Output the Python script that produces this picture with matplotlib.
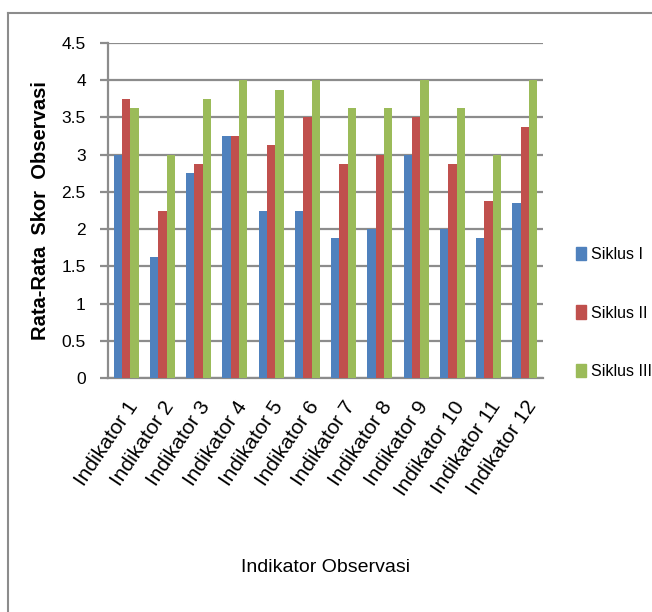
import numpy as np
import matplotlib.pyplot as plt
from matplotlib.lines import Line2D

categories = ["Indikator %d" % i for i in range(1, 13)]
siklus_1 = [3.0, 1.625, 2.75, 3.25, 2.25, 2.25, 1.875, 2.0, 3.0, 2.0, 1.875, 2.35]
siklus_2 = [3.75, 2.25, 2.875, 3.25, 3.125, 3.5, 2.875, 3.0, 3.5, 2.875, 2.375, 3.375]
siklus_3 = [3.625, 3.0, 3.75, 4.0, 3.875, 4.0, 3.625, 3.625, 4.0, 3.625, 3.0, 4.0]
series_names = ["Siklus I", "Siklus II", "Siklus III"]
colors = ["#4F81BD", "#C0504D", "#9BBB59"]

plt.rcParams["font.family"] = ["Liberation Sans", "DejaVu Sans"]

W, H = 652, 612
fig = plt.figure(figsize=(W / 100, H / 100), dpi=100)
ax = fig.add_axes([108 / W, 1 - 378 / H, (543 - 108) / W, (378 - 43) / H])

x = np.arange(len(categories))
bw = 0.23
for i, (vals, name, c) in enumerate(zip([siklus_1, siklus_2, siklus_3], series_names, colors)):
    ax.bar(x + (i - 1) * bw, vals, bw, color=c, label=name, zorder=3)

ax.set_xlim(-0.5, len(categories) - 0.5)
ax.set_ylim(0, 4.5)
ax.set_yticks(np.arange(0, 4.51, 0.5))
ax.set_yticklabels(["0", "0.5", "1", "1.5", "2", "2.5", "3", "3.5", "4", "4.5"])
ax.yaxis.grid(True, color="#8c8c8c", lw=1.6, zorder=0)
ax.set_axisbelow(True)
for s in ["top", "right"]:
    ax.spines[s].set_visible(False)
ax.spines["left"].set_color("#8c8c8c")
ax.spines["left"].set_linewidth(1.6)
ax.spines["bottom"].set_color("#8c8c8c")
ax.spines["bottom"].set_linewidth(1.6)
ax.tick_params(axis="y", length=6, width=1.6, color="#8c8c8c", labelsize=12.5, pad=10)
ax.tick_params(axis="x", length=0, pad=14)

ax.set_xticks(x)
ax.set_xticklabels(categories, rotation=56, ha="right", rotation_mode="anchor", fontsize=15)

ax.set_ylabel("Rata-Rata  Skor  Observasi", fontsize=14.5, fontweight="bold")
ax.yaxis.set_label_coords(-0.133, 0.5)
ax.set_xlabel("Indikator Observasi", fontsize=14)
ax.xaxis.set_label_coords(0.5, -0.54)

handles = [plt.Rectangle((0, 0), 1, 1, color=c) for c in colors]
fig.legend(handles, series_names, loc="center left", bbox_to_anchor=(562 / W, 1 - 313 / H),
           frameon=False, fontsize=11.5, handlelength=0.6, handleheight=0.9,
           handletextpad=0.3, labelspacing=2.7)

# outer chart frame (top and left edges)
fig.add_artist(Line2D([8 / W, 1], [1 - 13 / H, 1 - 13 / H], color="#8c8c8c", lw=1.5))
fig.add_artist(Line2D([8 / W, 8 / W], [0, 1 - 13 / H], color="#8c8c8c", lw=1.5))

plt.savefig("out.png")
